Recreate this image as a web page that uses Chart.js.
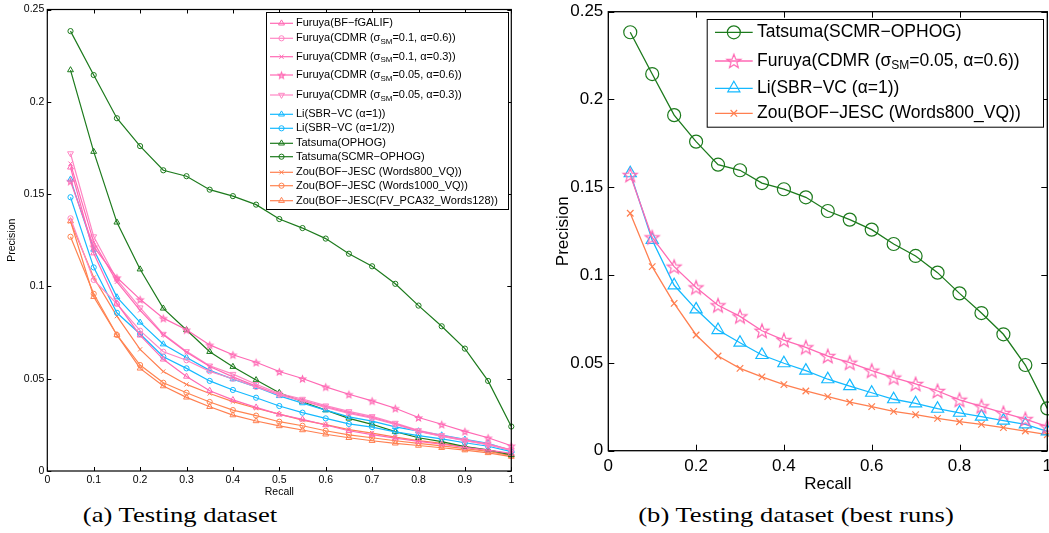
<!DOCTYPE html>
<html>
<head>
<meta charset="utf-8">
<script src="https://cdn.jsdelivr.net/npm/chart.js@4.4.1/dist/chart.umd.min.js"></script>
<style>
  html, body { margin: 0; padding: 0; background: #fff; }
  #wrap { position: relative; width: 1049px; height: 533px; overflow: hidden; background: #fff; }
  #cA { position: absolute; left: 0; top: 0; }
  #cB { position: absolute; left: 540px; top: 0; }
  .cap { position: absolute; top: 502px; font-family: "Liberation Serif", "DejaVu Serif", serif;
         font-size: 22px; color: #000; white-space: nowrap; transform: translateX(-50%) scaleX(1.21);
         line-height: 26px; }
</style>
</head>
<body>
<div id="wrap">
  <canvas id="cA" width="530" height="500"></canvas>
  <canvas id="cB" width="509" height="500"></canvas>
  <div class="cap" style="left:180px">(a) Testing dataset</div>
  <div class="cap" style="left:796px">(b) Testing dataset (best runs)</div>
</div>
<script>
// Recall levels shared by every curve
const recall = [0.05, 0.1, 0.15, 0.2, 0.25, 0.3, 0.35, 0.4, 0.45, 0.5,
                0.55, 0.6, 0.65, 0.7, 0.75, 0.8, 0.85, 0.9, 0.95, 1.0];

// Tick values / labels
const precisionTicks = [0, 0.05, 0.1, 0.15, 0.2, 0.25];
const precisionLabels = ['0', '0.05', '0.1', '0.15', '0.2', '0.25'];
const recallTicksA = [0, 0.1, 0.2, 0.3, 0.4, 0.5, 0.6, 0.7, 0.8, 0.9, 1];
const recallLabelsA = ['0', '0.1', '0.2', '0.3', '0.4', '0.5', '0.6', '0.7', '0.8', '0.9', '1'];
const recallTicksB = [0, 0.2, 0.4, 0.6, 0.8, 1];
const recallLabelsB = ['0', '0.2', '0.4', '0.6', '0.8', '1'];

// Precision per run
const furuyaBF        = [0.1645, 0.118, 0.0908, 0.0735, 0.0605, 0.0512, 0.0435, 0.0385, 0.0345, 0.0307,
                         0.0280, 0.0249, 0.0218, 0.0197, 0.0178, 0.0160, 0.0145, 0.0128, 0.0113, 0.0095];
const furuyaCdmr01_06 = [0.1369, 0.1035, 0.0905, 0.0760, 0.0646, 0.0600, 0.0540, 0.0500, 0.0455, 0.0412,
                         0.0380, 0.0345, 0.0312, 0.0286, 0.0252, 0.0214, 0.0188, 0.0164, 0.0142, 0.0112];
const furuyaCdmr01_03 = [0.1665, 0.124, 0.1025, 0.0870, 0.0738, 0.0643, 0.0566, 0.0510, 0.0460, 0.0413,
                         0.0383, 0.0348, 0.0316, 0.0290, 0.0255, 0.0216, 0.0190, 0.0166, 0.0144, 0.0113];
const furuyaCdmr005_06 = [0.157, 0.1215, 0.1048, 0.0930, 0.0828, 0.0765, 0.0683, 0.0630, 0.0589, 0.0539,
                          0.0501, 0.0456, 0.0416, 0.0380, 0.0340, 0.0290, 0.0253, 0.0215, 0.0180, 0.0137];
const furuyaCdmr005_03 = [0.172, 0.127, 0.1036, 0.0885, 0.0742, 0.0648, 0.0570, 0.0525, 0.0470, 0.0419,
                          0.0390, 0.0354, 0.0323, 0.0296, 0.0260, 0.0220, 0.0193, 0.0169, 0.0147, 0.0115];
const liSbr1          = [0.158, 0.120, 0.0942, 0.0805, 0.0687, 0.0615, 0.0545, 0.0498, 0.0456, 0.0407,
                         0.0368, 0.0330, 0.0293, 0.0270, 0.0239, 0.0216, 0.0194, 0.0171, 0.0150, 0.0110];
const liSbrHalf       = [0.1483, 0.1103, 0.0857, 0.0742, 0.0619, 0.0556, 0.0488, 0.0439, 0.0397, 0.0352,
                         0.0316, 0.0285, 0.0255, 0.0238, 0.0212, 0.0192, 0.0174, 0.0153, 0.0134, 0.0105];
const tatsumaOphog    = [0.2172, 0.173, 0.1347, 0.1093, 0.0881, 0.0764, 0.0646, 0.0565, 0.0493, 0.0424,
                         0.0375, 0.0330, 0.0285, 0.0253, 0.0213, 0.0180, 0.0159, 0.0132, 0.0114, 0.0087];
const tatsumaScmr     = [0.2383, 0.2145, 0.1911, 0.1760, 0.1629, 0.1597, 0.1524, 0.1489, 0.1443, 0.1365,
                         0.1316, 0.1259, 0.1177, 0.1109, 0.1014, 0.0896, 0.0784, 0.0663, 0.0488, 0.0241];
const zouVq800        = [0.1352, 0.1048, 0.0839, 0.0659, 0.0539, 0.0469, 0.0420, 0.0376, 0.0340, 0.0308,
                         0.0276, 0.0251, 0.0224, 0.0205, 0.0184, 0.0165, 0.0150, 0.0131, 0.0112, 0.0091];
const zouVq1000       = [0.1269, 0.096, 0.0737, 0.0574, 0.0478, 0.0424, 0.0374, 0.0330, 0.0300, 0.0267,
                         0.0245, 0.0218, 0.0196, 0.0180, 0.0164, 0.0150, 0.0136, 0.0121, 0.0106, 0.0083];
const zouFv128        = [0.1354, 0.0944, 0.0737, 0.0556, 0.0460, 0.0399, 0.0348, 0.0303, 0.0271, 0.0244,
                         0.0222, 0.0199, 0.0180, 0.0164, 0.0150, 0.0138, 0.0126, 0.0113, 0.0098, 0.0078];

const PINK = '#ff69b4', PINK_L = '#ff86c4', CYAN = '#14b9ff', GREEN = '#1c7a1c', CORAL = '#ff7f50', CORAL2 = '#ff8450';
const SANS = '"Liberation Sans", Arial, Helvetica, sans-serif';
Chart.defaults.font.family = SANS;
Chart.defaults.color = '#000';

function pts(vals) { return vals.map((v, i) => ({ x: recall[i], y: v })); }

// Five-pointed star marker drawn onto a small canvas
function pentagram(r, color, lw) {
  const s = Math.ceil(2 * r + 2 * lw + 2);
  const c = document.createElement('canvas');
  c.width = s; c.height = s;
  const g = c.getContext('2d');
  g.strokeStyle = color; g.lineWidth = lw; g.lineJoin = 'miter';
  g.beginPath();
  for (let k = 0; k < 10; k++) {
    const rr = (k % 2) ? r * 0.42 : r;
    const a = -Math.PI / 2 + k * Math.PI / 5;
    const px = s / 2 + rr * Math.cos(a), py = s / 2 + 0.6 + rr * Math.sin(a);
    if (k) g.lineTo(px, py); else g.moveTo(px, py);
  }
  g.closePath(); g.stroke();
  return c;
}

function series(label, vals, color, style, radius, extra) {
  return Object.assign({
    label, data: pts(vals), borderColor: color, backgroundColor: color,
    pointBorderColor: color, pointBackgroundColor: 'rgba(255,255,255,0)',
    pointStyle: style, pointRadius: radius, pointHoverRadius: radius,
    pointBorderWidth: 1, pointRotation: 0, borderWidth: 1.2, tension: 0, fill: false, clip: false
  }, extra || {});
}

// Box frame with inward ticks on all four sides
const framePlugin = {
  id: 'frame',
  afterDatasetsDraw(chart, args, o) {
    const { ctx, chartArea: a, scales } = chart;
    ctx.save();
    ctx.strokeStyle = '#000'; ctx.lineWidth = o.lw;
    ctx.beginPath();
    scales.x.ticks.forEach(t => {
      const px = Math.round(scales.x.getPixelForValue(t.value)) + 0.5;
      ctx.moveTo(px, a.bottom); ctx.lineTo(px, a.bottom - o.len);
      ctx.moveTo(px, a.top); ctx.lineTo(px, a.top + o.len);
    });
    scales.y.ticks.forEach(t => {
      const py = Math.round(scales.y.getPixelForValue(t.value)) + 0.5;
      ctx.moveTo(a.left, py); ctx.lineTo(a.left + o.len, py);
      ctx.moveTo(a.right, py); ctx.lineTo(a.right - o.len, py);
    });
    ctx.stroke();
    ctx.lineWidth = o.frameLw;
    ctx.strokeRect(a.left, a.top, a.right - a.left, a.bottom - a.top);
    ctx.restore();
  }
};

// Boxed legend; "_{..}" in a label is set as a subscript
const boxLegend = {
  id: 'boxLegend',
  afterDraw(chart, args, o) {
    const ctx = chart.ctx;
    ctx.save();
    const [x1, y1, x2, y2] = o.box;
    ctx.fillStyle = '#fff';
    ctx.fillRect(x1, y1, x2 - x1, y2 - y1);
    ctx.strokeStyle = '#000'; ctx.lineWidth = 1;
    ctx.strokeRect(x1 + 0.5, y1 + 0.5, x2 - x1, y2 - y1);
    chart.data.datasets.forEach((ds, i) => {
      const y = o.rows[i];
      ctx.strokeStyle = ds.borderColor; ctx.lineWidth = ds.borderWidth;
      ctx.beginPath(); ctx.moveTo(o.line[0], y); ctx.lineTo(o.line[1], y); ctx.stroke();
      ctx.fillStyle = ds.pointBackgroundColor; ctx.strokeStyle = ds.pointBorderColor; ctx.lineWidth = ds.pointBorderWidth;
      Chart.helpers.drawPoint(ctx, { pointStyle: ds.pointStyle, radius: ds.pointRadius, rotation: ds.pointRotation, borderWidth: ds.pointBorderWidth },
        (o.line[0] + o.line[1]) / 2, y);
      let x = o.textX;
      ctx.fillStyle = '#000'; ctx.textBaseline = 'middle'; ctx.textAlign = 'left';
      ds.label.split(/_\{([^}]*)\}/).forEach((seg, k) => {
        if (!seg) return;
        const sub = k % 2 === 1;
        ctx.font = (sub ? o.subSize : o.size) + 'px ' + SANS;
        ctx.fillText(seg, x, y + (sub ? o.subDrop : 0));
        x += ctx.measureText(seg).width;
      });
    });
    ctx.restore();
  }
};

function axes(xTicks, xLabels, f) {
  return {
    x: {
      type: 'linear', min: 0, max: 1,
      afterBuildTicks: s => { s.ticks = xTicks.map(v => ({ value: v })); },
      afterFit: s => { s.height = f.xH; s.paddingLeft = 0; s.paddingRight = 0; },
      grid: { display: false, drawTicks: false }, border: { display: false },
      ticks: { padding: f.xPad, font: { size: f.tick }, maxRotation: 0, autoSkip: false, callback: (v, i) => xLabels[i] },
      title: { display: true, text: 'Recall', font: { size: f.title }, padding: { top: 0, bottom: f.xTitlePad } }
    },
    y: {
      type: 'linear', min: 0, max: 0.25,
      afterBuildTicks: s => { s.ticks = precisionTicks.map(v => ({ value: v })); },
      afterFit: s => { s.width = f.yW; s.paddingTop = 0; s.paddingBottom = 0; },
      grid: { display: false, drawTicks: false }, border: { display: false },
      ticks: { padding: f.yPad, font: { size: f.tick }, autoSkip: false, callback: (v, i) => precisionLabels[i] },
      title: { display: true, text: 'Precision', font: { size: f.title }, padding: { top: f.yTitlePad, bottom: 0 } }
    }
  };
}

const star5 = pentagram(3.4, PINK, 1.1);
const star7 = pentagram(7.4, PINK, 1.2);

// (a) all runs
new Chart(document.getElementById('cA'), {
  type: 'line',
  data: {
    datasets: [
      series('Furuya(BF\u2212fGALIF)', furuyaBF, PINK, 'triangle', 3.4),
      series('Furuya(CDMR (\u03c3_{SM}=0.1, \u03b1=0.6))', furuyaCdmr01_06, PINK_L, 'circle', 2.6),
      series('Furuya(CDMR (\u03c3_{SM}=0.1, \u03b1=0.3))', furuyaCdmr01_03, PINK, 'crossRot', 3),
      series('Furuya(CDMR (\u03c3_{SM}=0.05, \u03b1=0.6))', furuyaCdmr005_06, PINK, star5, 3.4),
      series('Furuya(CDMR (\u03c3_{SM}=0.05, \u03b1=0.3))', furuyaCdmr005_03, PINK_L, 'triangle', 3.4, { pointRotation: 180 }),
      series('Li(SBR\u2212VC (\u03b1=1))', liSbr1, CYAN, 'triangle', 3.4),
      series('Li(SBR\u2212VC (\u03b1=1/2))', liSbrHalf, CYAN, 'circle', 2.6),
      series('Tatsuma(OPHOG)', tatsumaOphog, GREEN, 'triangle', 3.4),
      series('Tatsuma(SCMR\u2212OPHOG)', tatsumaScmr, GREEN, 'circle', 2.6),
      series('Zou(BOF\u2212JESC (Words800_VQ))', zouVq800, CORAL, 'crossRot', 3),
      series('Zou(BOF\u2212JESC (Words1000_VQ))', zouVq1000, CORAL2, 'circle', 2.6),
      series('Zou(BOF\u2212JESC(FV_PCA32_Words128))', zouFv128, CORAL, 'triangle', 3.4)
    ]
  },
  options: {
    responsive: false, animation: false, devicePixelRatio: 1,
    layout: { autoPadding: false, padding: { left: 0, right: 18.7, top: 9.5, bottom: 0 } },
    scales: axes(recallTicksA, recallLabelsA, { xH: 29, yW: 47.3, xPad: 3, yPad: 3, tick: 10.5, title: 10.5, xTitlePad: 2, yTitlePad: 6 }),
    plugins: {
      legend: { display: false }, tooltip: { enabled: false },
      frame: { lw: 1, len: 4, frameLw: 1.2 },
      boxLegend: {
        box: [266, 12, 508, 209],
        rows: [23.3, 38.3, 56.7, 75, 95, 114.3, 128.3, 143.3, 156.7, 172.3, 185.7, 200.7],
        line: [270, 293], textX: 296, size: 11, subSize: 8, subDrop: 3.5
      }
    }
  },
  plugins: [framePlugin, boxLegend]
});

// (b) best run of each method
new Chart(document.getElementById('cB'), {
  type: 'line',
  data: {
    datasets: [
      series('Tatsuma(SCMR\u2212OPHOG)', tatsumaScmr, GREEN, 'circle', 6.5, { borderWidth: 1.3, pointBorderWidth: 1.2 }),
      series('Furuya(CDMR (\u03c3_{SM}=0.05, \u03b1=0.6))', furuyaCdmr005_06, PINK, star7, 7.4, { borderWidth: 1.3, pointBorderWidth: 1.2 }),
      series('Li(SBR\u2212VC (\u03b1=1))', liSbr1, CYAN, 'triangle', 7, { borderWidth: 1.3, pointBorderWidth: 1.2 }),
      series('Zou(BOF\u2212JESC (Words800_VQ))', zouVq800, CORAL, 'crossRot', 4.6, { borderWidth: 1.3, pointBorderWidth: 1.2 })
    ]
  },
  options: {
    responsive: false, animation: false, devicePixelRatio: 1,
    layout: { autoPadding: false, padding: { left: 0, right: 1.7, top: 11.7, bottom: 0 } },
    scales: axes(recallTicksB, recallLabelsB, { xH: 49.3, yW: 68.3, xPad: 5, yPad: 5, tick: 17, title: 17, xTitlePad: 5, yTitlePad: 12.8 }),
    plugins: {
      legend: { display: false }, tooltip: { enabled: false },
      frame: { lw: 1, len: 6, frameLw: 1.3 },
      boxLegend: {
        box: [166.7, 19, 503, 126.7],
        rows: [32.3, 61, 88.3, 113.3],
        line: [175, 212.7], textX: 217, size: 17.5, subSize: 12, subDrop: 5
      }
    }
  },
  plugins: [framePlugin, boxLegend]
});
</script>
</body>
</html>
